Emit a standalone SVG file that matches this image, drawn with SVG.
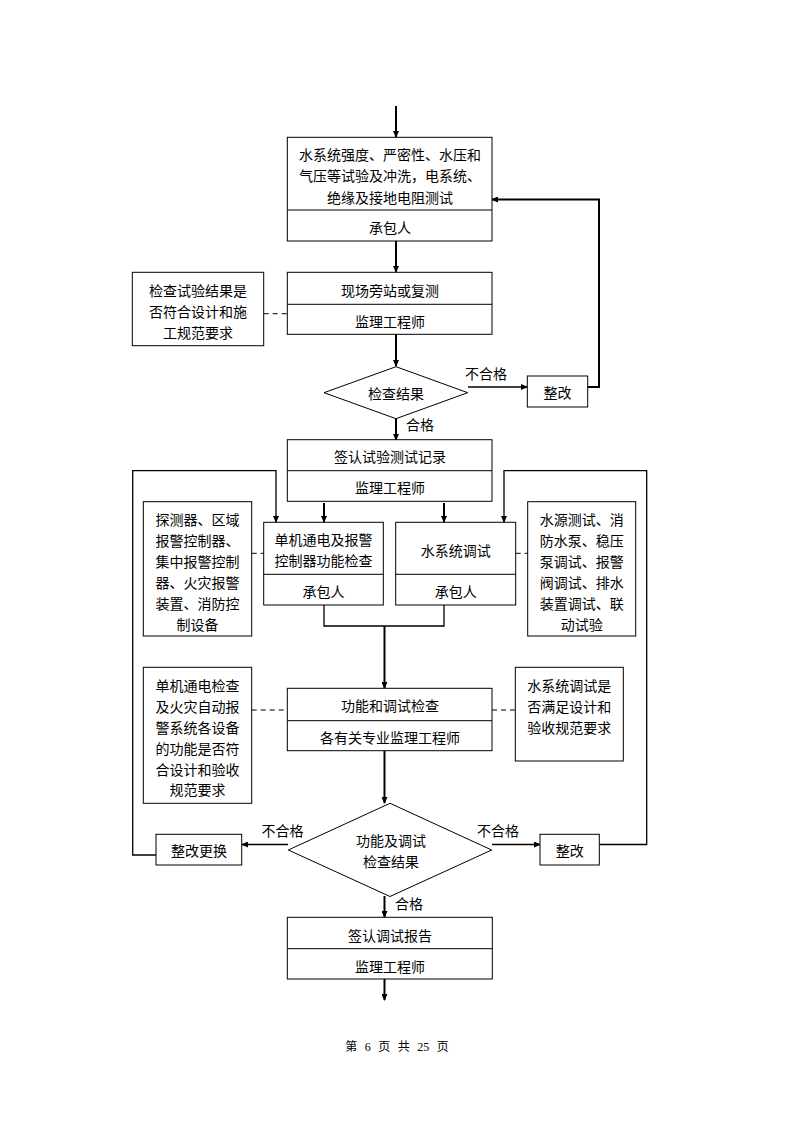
<svg xmlns="http://www.w3.org/2000/svg" width="794" height="1123" viewBox="0 0 794 1123">
<defs>
<marker id="ah" markerUnits="userSpaceOnUse" markerWidth="7" markerHeight="6" refX="6" refY="3" orient="auto">
<path d="M0,0 L7,3 L0,6 z" fill="#000"/>
</marker>
</defs>
<style>
.b{fill:#fff;stroke:#000;stroke-width:1}
.t{font-family:"Noto Sans CJK SC","Noto Sans",sans-serif;font-size:14px;fill:#000;text-anchor:middle;dominant-baseline:central}
.l{font-family:"Noto Sans CJK SC","Noto Sans",sans-serif;font-size:14px;fill:#000;dominant-baseline:central}
.f{fill:none;stroke:#000;stroke-width:2}
.g{fill:none;stroke:#000;stroke-width:1.3}
.d{fill:none;stroke:#000;stroke-width:1;stroke-dasharray:5,4}
</style>
<rect width="794" height="1123" fill="#fff"/>
<g id="connectors">
<line class="f" x1="396" y1="106" x2="396" y2="137" marker-end="url(#ah)"/>
<line class="f" x1="396" y1="241" x2="396" y2="272" marker-end="url(#ah)"/>
<line class="f" x1="396" y1="334" x2="396" y2="366" marker-end="url(#ah)"/>
<line class="g" x1="468" y1="387" x2="527" y2="387" marker-end="url(#ah)"/>
<polyline class="f" points="588,387 599,387 599,199.5 492,199.5" marker-end="url(#ah)"/>
<line class="f" x1="396" y1="418" x2="396" y2="440" marker-end="url(#ah)"/>
<line class="f" x1="324" y1="503" x2="324" y2="522" marker-end="url(#ah)"/>
<line class="f" x1="444" y1="503" x2="444" y2="522" marker-end="url(#ah)"/>
<polyline class="g" points="324,605 324,626 444,626 444,605"/>
<line class="f" x1="384.5" y1="626" x2="384.5" y2="688" marker-end="url(#ah)"/>
<line class="f" x1="384.5" y1="751" x2="384.5" y2="803" marker-end="url(#ah)"/>
<line class="g" x1="288" y1="844.5" x2="242" y2="844.5" marker-end="url(#ah)"/>
<line class="g" x1="492" y1="844.5" x2="540" y2="844.5" marker-end="url(#ah)"/>
<polyline class="g" points="156,855 132.7,855 132.7,470.7 276,470.7 276,522" marker-end="url(#ah)"/>
<polyline class="g" points="599.3,844.5 646.7,844.5 646.7,470.7 504,470.7 504,522" marker-end="url(#ah)"/>
<line class="f" x1="384.5" y1="896" x2="384.5" y2="917" marker-end="url(#ah)"/>
<line class="f" x1="384.5" y1="979" x2="384.5" y2="1000" marker-end="url(#ah)"/>
<line class="d" x1="263.7" y1="313.7" x2="287.3" y2="313.7"/>
<line class="d" x1="251.7" y1="553.3" x2="263.7" y2="553.3"/>
<line class="d" x1="515.7" y1="553.3" x2="527.7" y2="553.3"/>
<line class="d" x1="251.7" y1="710" x2="287.3" y2="710"/>
<line class="d" x1="492" y1="710" x2="515.3" y2="710"/>
<text class="l" x="465" y="372.7">不合格</text>
<text class="l" x="406" y="424">合格</text>
<text class="t" x="282.5" y="830">不合格</text>
<text class="t" x="498" y="830">不合格</text>
<text class="l" x="395" y="903">合格</text>
</g>
<g id="n1">
<rect class="b" x="287.3" y="137.3" width="204.7" height="103.7"/>
<line class="b" x1="287.3" y1="210" x2="492" y2="210"/>
<text class="t" x="390" y="154">水系统强度、严密性、水压和</text>
<text class="t" x="390" y="175">气压等试验及冲洗，电系统、</text>
<text class="t" x="390" y="196.5">绝缘及接地电阻测试</text>
<text class="t" x="390" y="227">承包人</text>
</g>
<g id="n2">
<rect class="b" x="287.3" y="272.3" width="204.7" height="62"/>
<line class="b" x1="287.3" y1="304.3" x2="492" y2="304.3"/>
<text class="t" x="390" y="289.5">现场旁站或复测</text>
<text class="t" x="390" y="320.5">监理工程师</text>
</g>
<g id="note1">
<rect class="b" x="132.3" y="272.3" width="131.4" height="73.4"/>
<text class="t" x="198" y="289.5">检查试验结果是</text>
<text class="t" x="198" y="310.5">否符合设计和施</text>
<text class="t" x="198" y="331.5">工规范要求</text>
</g>
<g id="d1">
<polygon class="b" points="396,366.7 467.7,392.7 396,418.7 324,392.7"/>
<text class="t" x="396" y="392.5">检查结果</text>
</g>
<g id="fix1">
<rect class="b" x="527.3" y="376" width="60.4" height="31"/>
<text class="t" x="557.5" y="391.5">整改</text>
</g>
<g id="n3">
<rect class="b" x="287.3" y="439.7" width="204.7" height="61.6"/>
<line class="b" x1="287.3" y1="470.7" x2="492" y2="470.7"/>
<text class="t" x="390" y="456">签认试验测试记录</text>
<text class="t" x="390" y="487">监理工程师</text>
</g>
<g id="n4">
<rect class="b" x="263.7" y="522.3" width="119.6" height="82.7"/>
<line class="b" x1="263.7" y1="574.3" x2="383.3" y2="574.3"/>
<text class="t" x="323.5" y="539">单机通电及报警</text>
<text class="t" x="323.5" y="560">控制器功能检查</text>
<text class="t" x="323.5" y="591">承包人</text>
</g>
<g id="n5">
<rect class="b" x="395.7" y="522.3" width="120" height="82.7"/>
<line class="b" x1="395.7" y1="574.3" x2="515.7" y2="574.3"/>
<text class="t" x="455.7" y="549.5">水系统调试</text>
<text class="t" x="455.7" y="591">承包人</text>
</g>
<g id="note2">
<rect class="b" x="143.3" y="501.7" width="108.4" height="134.3"/>
<text class="t" x="197.5" y="519">探测器、区域</text>
<text class="t" x="197.5" y="540">报警控制器、</text>
<text class="t" x="197.5" y="561">集中报警控制</text>
<text class="t" x="197.5" y="582">器、火灾报警</text>
<text class="t" x="197.5" y="603">装置、消防控</text>
<text class="t" x="197.5" y="623.5">制设备</text>
</g>
<g id="note3">
<rect class="b" x="527.7" y="501.7" width="108" height="134.3"/>
<text class="t" x="581.7" y="519">水源测试、消</text>
<text class="t" x="581.7" y="540">防水泵、稳压</text>
<text class="t" x="581.7" y="561">泵调试、报警</text>
<text class="t" x="581.7" y="582">阀调试、排水</text>
<text class="t" x="581.7" y="603">装置调试、联</text>
<text class="t" x="581.7" y="623.5">动试验</text>
</g>
<g id="n6">
<rect class="b" x="287.3" y="688.3" width="204.7" height="62.4"/>
<line class="b" x1="287.3" y1="720.7" x2="492" y2="720.7"/>
<text class="t" x="390" y="705">功能和调试检查</text>
<text class="t" x="390" y="737">各有关专业监理工程师</text>
</g>
<g id="note4">
<rect class="b" x="143.3" y="667.3" width="108.4" height="136"/>
<text class="t" x="197.5" y="685">单机通电检查</text>
<text class="t" x="197.5" y="706">及火灾自动报</text>
<text class="t" x="197.5" y="727">警系统各设备</text>
<text class="t" x="197.5" y="748">的功能是否符</text>
<text class="t" x="197.5" y="769">合设计和验收</text>
<text class="t" x="197.5" y="788.5">规范要求</text>
</g>
<g id="note5">
<rect class="b" x="515.3" y="667.3" width="108" height="93.7"/>
<text class="t" x="569.3" y="685">水系统调试是</text>
<text class="t" x="569.3" y="706">否满足设计和</text>
<text class="t" x="569.3" y="726.5">验收规范要求</text>
</g>
<g id="d2">
<polygon class="b" points="390,803.3 491.7,850 390,896.5 288.3,850"/>
<text class="t" x="391" y="840">功能及调试</text>
<text class="t" x="391" y="861">检查结果</text>
</g>
<g id="fix2">
<rect class="b" x="156" y="834.3" width="85.7" height="30.7"/>
<text class="t" x="199" y="850">整改更换</text>
</g>
<g id="fix3">
<rect class="b" x="540" y="834.3" width="59.3" height="30.7"/>
<text class="t" x="569.7" y="850">整改</text>
</g>
<g id="n7">
<rect class="b" x="287.3" y="917.3" width="205" height="61.7"/>
<line class="b" x1="287.3" y1="948.7" x2="492.3" y2="948.7"/>
<text class="t" x="390" y="935">签认调试报告</text>
<text class="t" x="390" y="966">监理工程师</text>
</g>
<g id="footer">
<text x="397" y="1047" style="font-family:'Liberation Serif','Noto Sans CJK SC',serif;font-size:12px;text-anchor:middle;dominant-baseline:central;word-spacing:4.5px">第 6 页 共 25 页</text>
</g>
</svg>
